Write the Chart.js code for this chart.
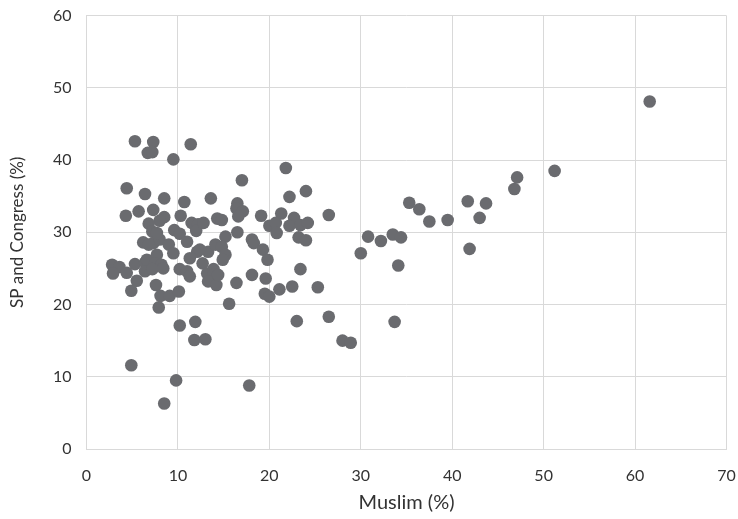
<!DOCTYPE html>
<html>
<head>
<meta charset="utf-8">
<script src="https://cdn.jsdelivr.net/npm/chart.js@4/dist/chart.umd.min.js"></script>
<style>
    html, body { margin: 0; padding: 0; background: #fff; }
    #wrap { width: 738px; height: 519px; }
</style>
</head>
<body>
<div id="wrap"><canvas id="chart"></canvas></div>
<script>
// Muslim share of population (%), x values
const muslimPct = [
    5.3, 7.3, 6.7, 7.2, 11.4, 9.5, 4.4, 6.4, 8.5, 10.7,
    13.6, 4.3, 5.7, 7.3, 8.5, 10.3, 8.0, 11.5, 12.2, 6.8,
    7.2, 9.6, 10.2, 11.0, 12.0, 6.2, 7.3, 8.0, 9.0, 9.5,
    12.1, 13.3, 11.3, 12.7, 2.8, 3.6, 2.9, 4.4, 5.3, 6.4,
    6.6, 7.7, 7.5, 8.2, 6.4, 7.2, 8.4, 10.2, 11.0, 11.3,
    13.2, 5.5, 4.9, 7.6, 8.1, 9.1, 10.1, 7.9, 10.2, 11.9,
    11.8, 13.0, 4.9, 9.8, 8.5,
    21.8, 17.0, 22.2, 24.0, 16.5, 16.4, 17.1, 16.6, 14.3, 14.8,
    12.8, 19.1, 21.3, 22.7, 26.5, 20.0, 20.7, 20.8, 22.2, 23.4,
    24.2, 23.2, 24.0, 15.2, 16.5, 18.1, 18.3, 14.1, 14.8, 19.3,
    19.8, 15.2, 23.4, 13.9, 12.4,
    14.9, 13.9, 13.3, 14.2, 14.4, 16.4, 18.1, 19.6, 19.5, 20.0,
    21.1, 22.5, 25.3, 15.6, 23.0, 26.5, 17.8,
    35.3, 36.4, 37.5, 39.5, 41.7, 43.7, 43.0, 41.9, 30.8, 32.2,
    33.5, 34.4, 30.0, 34.1, 33.7, 28.0, 28.9,
    61.6, 51.2, 47.1, 46.8, 7.7, 6.8
];

// SP and Congress vote share (%), y values, same order
const spCongressPct = [
    42.6, 42.5, 41.0, 41.1, 42.2, 40.1, 36.1, 35.3, 34.7, 34.2,
    34.7, 32.3, 32.9, 33.1, 32.1, 32.3, 31.6, 31.3, 31.1, 31.2,
    30.1, 30.3, 29.8, 28.7, 30.2, 28.6, 28.5, 29.0, 28.3, 27.1,
    27.3, 27.3, 26.4, 25.7, 25.5, 25.2, 24.3, 24.4, 25.6, 25.8,
    26.2, 26.9, 25.7, 25.5, 24.6, 24.9, 25.0, 24.9, 24.6, 23.9,
    24.3, 23.3, 21.9, 22.7, 21.2, 21.2, 21.8, 19.6, 17.1, 17.6,
    15.1, 15.2, 11.6, 9.5, 6.3,
    38.9, 37.2, 34.9, 35.7, 34.0, 33.3, 32.9, 32.2, 31.9, 31.7,
    31.3, 32.3, 32.6, 32.0, 32.4, 30.9, 31.3, 29.9, 30.9, 31.0,
    31.3, 29.3, 28.9, 29.4, 30.0, 29.0, 28.5, 28.3, 28.0, 27.6,
    26.2, 26.9, 24.9, 24.9, 27.6,
    26.2, 24.1, 23.2, 22.7, 24.1, 23.0, 24.1, 23.6, 21.5, 21.1,
    22.1, 22.5, 22.4, 20.1, 17.7, 18.3, 8.8,
    34.1, 33.2, 31.5, 31.7, 34.3, 34.0, 32.0, 27.7, 29.4, 28.8,
    29.7, 29.3, 27.1, 25.4, 17.6, 15.0, 14.7,
    48.1, 38.5, 37.6, 36.0, 29.9, 28.3
];

const xTicks = [0, 10, 20, 30, 40, 50, 60, 70];
const yTicks = [0, 10, 20, 30, 40, 50, 60];

const points = muslimPct.map((x, i) => ({ x, y: spCongressPct[i] }));

const GRID = '#d9d9d9';
const TEXT = '#333333';
const FONT = 'Lato, "Open Sans", sans-serif';

new Chart(document.getElementById('chart'), {
    type: 'scatter',
    data: {
        datasets: [{
            data: points,
            backgroundColor: '#6a6b6f',
            borderWidth: 0,
            pointRadius: 6.3,
            pointHoverRadius: 6.3,
        }],
    },
    options: {
        responsive: true,
        maintainAspectRatio: false,
        animation: false,
        layout: { padding: { top: 15.6, right: 11.5, bottom: 4, left: 4 } },
        plugins: {
            legend: { display: false },
            tooltip: { enabled: false },
        },
        scales: {
            x: {
                type: 'linear',
                min: xTicks[0],
                max: xTicks[xTicks.length - 1],
                afterBuildTicks: s => { s.ticks = xTicks.map(v => ({ value: v })); },
                // fixed height, and drop the edge-label overflow room
                afterFit: s => {
                    s.height = 66;
                    s.paddingLeft = 0;
                    s.paddingRight = 0;
                },
                grid: { color: GRID, lineWidth: 1, drawTicks: false },
                border: { color: GRID },
                ticks: { color: TEXT, font: { family: FONT, size: 16 }, padding: 17 },
                title: {
                    display: true,
                    text: 'Muslim (%)',
                    color: TEXT,
                    font: { family: FONT, size: 20 },
                    padding: { top: 8, bottom: 0 },
                },
            },
            y: {
                type: 'linear',
                min: yTicks[0],
                max: yTicks[yTicks.length - 1],
                afterBuildTicks: s => { s.ticks = yTicks.map(v => ({ value: v })); },
                afterFit: s => {
                    s.width = 82.5;
                    s.paddingTop = 0;
                    s.paddingBottom = 0;
                },
                grid: { color: GRID, lineWidth: 1, drawTicks: false },
                border: { color: GRID },
                ticks: { color: TEXT, font: { family: FONT, size: 16 }, padding: 15 },
                title: {
                    display: true,
                    text: 'SP and Congress (%)',
                    color: TEXT,
                    font: { family: FONT, size: 17 },
                    padding: { top: 3, bottom: 0 },
                },
            },
        },
    },
});
</script>
</body>
</html>
